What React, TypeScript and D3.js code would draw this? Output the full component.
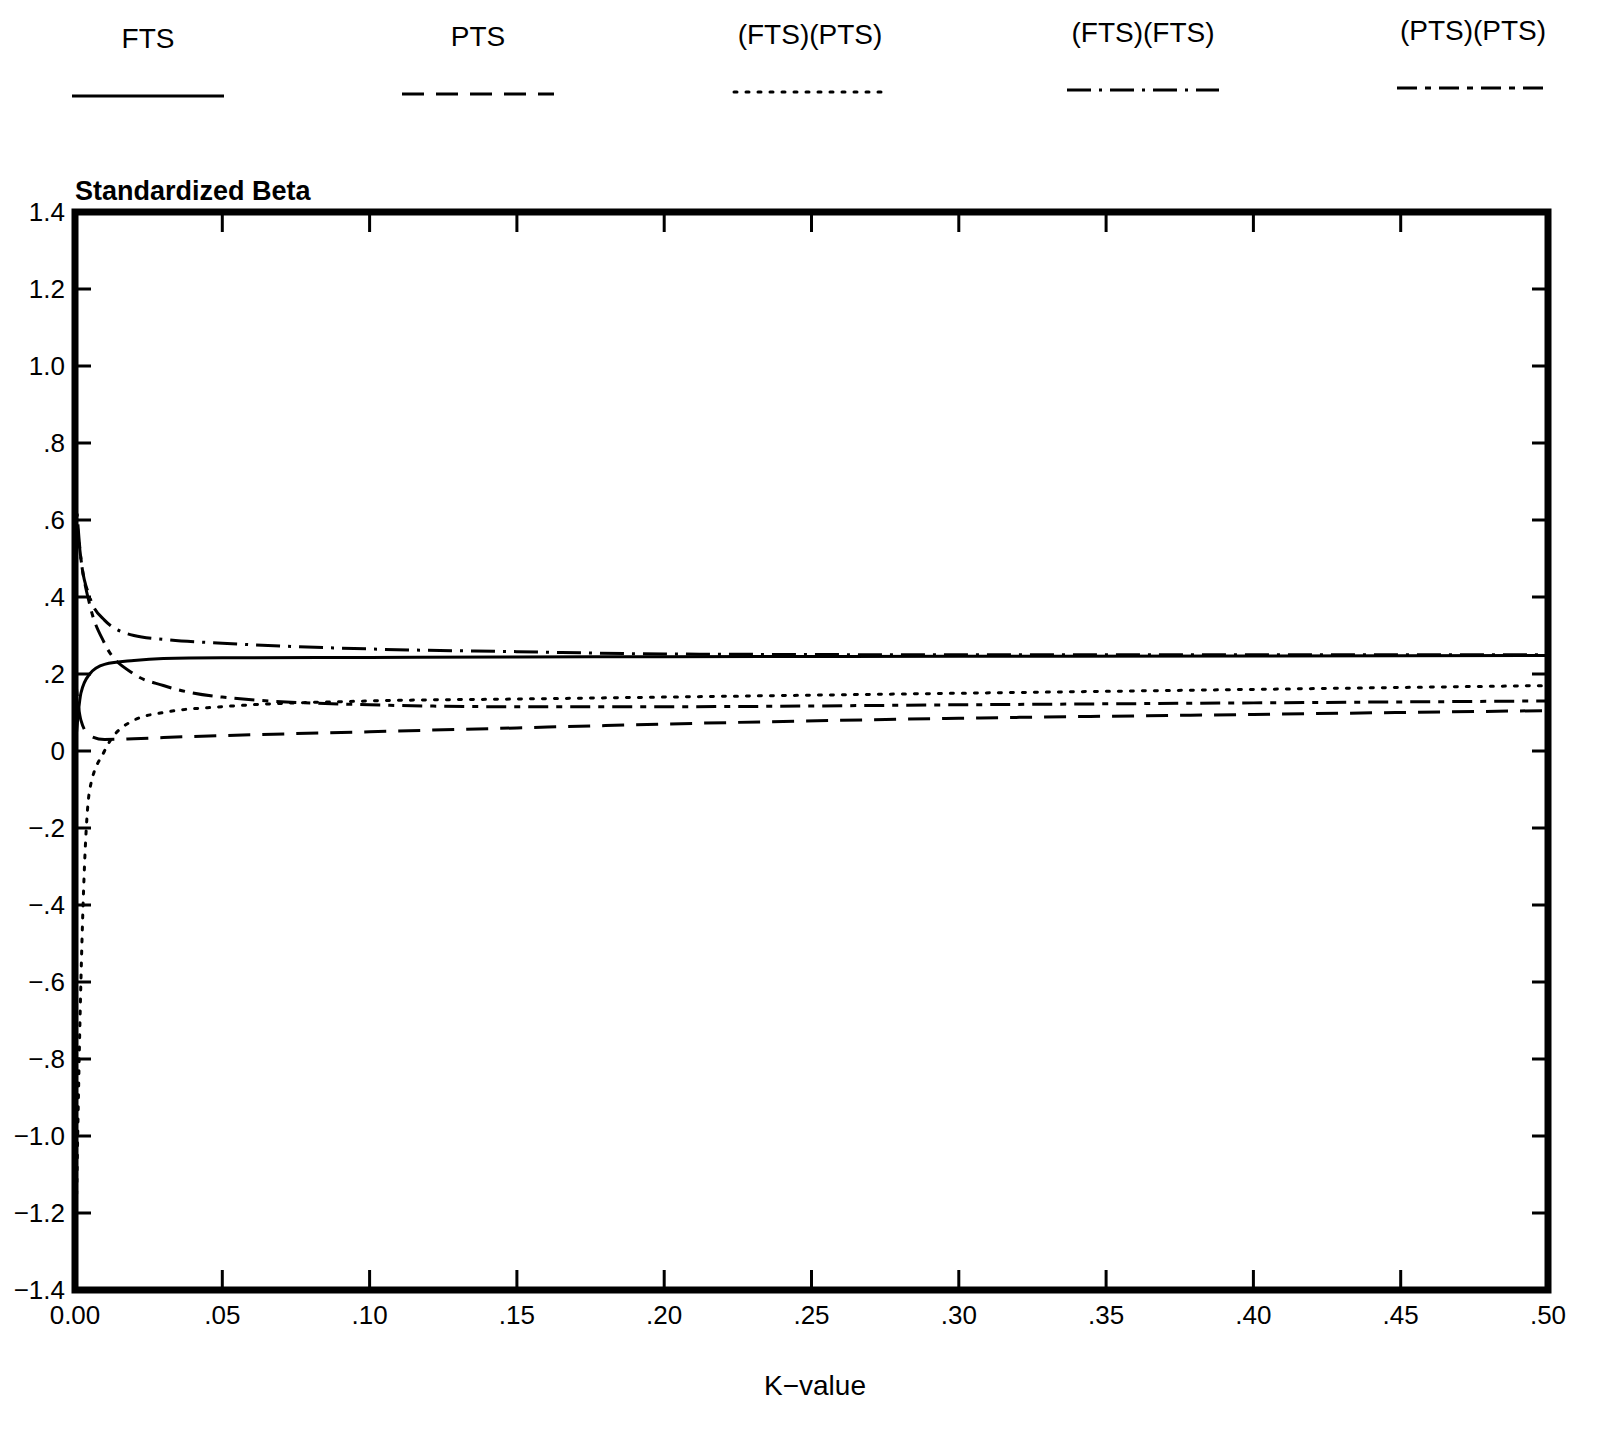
import * as d3 from "d3"

const kValues = [0, 0.002, 0.005, 0.01, 0.02, 0.03, 0.05, 0.1, 0.15, 0.2, 0.3, 0.4, 0.5]
const fts = [0.0, 0.15, 0.2, 0.225, 0.235, 0.24, 0.242, 0.243, 0.244, 0.245, 0.246, 0.247, 0.248]
const pts = [0.2, 0.08, 0.04, 0.03, 0.032, 0.035, 0.04, 0.05, 0.06, 0.07, 0.085, 0.095, 0.105]
const ftsPts = [-1.4, -0.6, -0.1, 0.0, 0.08, 0.1, 0.115, 0.13, 0.135, 0.14, 0.15, 0.16, 0.17]
const ftsFts = [0.7, 0.5, 0.4, 0.34, 0.3, 0.29, 0.28, 0.265, 0.258, 0.252, 0.25, 0.25, 0.25]
const ptsPts = [0.65, 0.5, 0.38, 0.28, 0.2, 0.17, 0.14, 0.12, 0.115, 0.115, 0.12, 0.125, 0.13]

const seriesNames = ["FTS", "PTS", "(FTS)(PTS)", "(FTS)(FTS)", "(PTS)(PTS)"]
const seriesValues = [fts, pts, ftsPts, ftsFts, ptsPts]
const dashes = ["none", "22 12", "3 9", "24 8 3 8", "20 8 6 8"]
const caps = ["butt", "butt", "round", "butt", "butt"]

const xTicks = [0, 0.05, 0.1, 0.15, 0.2, 0.25, 0.3, 0.35, 0.4, 0.45, 0.5]
const yTicks = [1.4, 1.2, 1.0, 0.8, 0.6, 0.4, 0.2, 0, -0.2, -0.4, -0.6, -0.8, -1.0, -1.2, -1.4]

const fmtX = (v: number) => (v === 0 ? "0.00" : "." + d3.format("02d")(Math.round(v * 100)))
const fmtY = (v: number) => {
  if (v === 0) return "0"
  const a = Math.abs(v)
  const s = a >= 1 ? a.toFixed(1) : "." + Math.round(a * 10)
  return v < 0 ? "\u2212" + s : s
}

export default function App() {
  const width = 1599
  const height = 1437
  const left = 75
  const right = 1548
  const top = 212
  const bottom = 1290
  const x = d3.scaleLinear([0, 0.5], [left, right])
  const y = d3.scaleLinear([-1.4, 1.4], [bottom, top])
  const line = d3.line<[number, number]>().x(d => x(d[0])).y(d => y(d[1])).curve(d3.curveMonotoneX)
  const font = "Liberation Sans, Arial, sans-serif"
  const legendX = [148, 478, 810, 1143, 1473]

  return (
    <svg width={width} height={height} style={{ display: "block", margin: -8, background: "#fff" }} fontFamily={font}>
      {seriesNames.map((n, i) => (
        <g key={n}>
          <text x={legendX[i]} y={48 - i * 2} textAnchor="middle" fontSize={28}>{n}</text>
          <line x1={legendX[i] - 76} x2={legendX[i] + 76} y1={96 - i * 2} y2={96 - i * 2}
            stroke="#000" strokeWidth={3} strokeDasharray={dashes[i]} strokeLinecap={caps[i] as any} />
        </g>
      ))}
      <text x={left} y={200} fontSize={27} fontWeight="bold">Standardized Beta</text>
      <defs>
        <clipPath id="c"><rect x={left} y={top} width={right - left} height={bottom - top} /></clipPath>
      </defs>
      <g clipPath="url(#c)">
        {seriesValues.map((vals, i) => (
          <path key={i} d={line(kValues.map((k, j) => [k, vals[j]] as [number, number])) || ""}
            fill="none" stroke="#000" strokeWidth={3} strokeDasharray={dashes[i]} strokeLinecap={caps[i] as any} />
        ))}
      </g>
      <rect x={left} y={top} width={right - left} height={bottom - top} fill="none" stroke="#000" strokeWidth={7} />
      {xTicks.map(t => (
        <g key={t}>
          <line x1={x(t)} x2={x(t)} y1={bottom} y2={bottom - 20} stroke="#000" strokeWidth={3} />
          <line x1={x(t)} x2={x(t)} y1={top} y2={top + 20} stroke="#000" strokeWidth={3} />
          <text x={x(t)} y={bottom + 34} textAnchor="middle" fontSize={26}>{fmtX(t)}</text>
        </g>
      ))}
      {yTicks.map(t => (
        <g key={t}>
          <line x1={left} x2={left + 16} y1={y(t)} y2={y(t)} stroke="#000" strokeWidth={3} />
          <line x1={right} x2={right - 16} y1={y(t)} y2={y(t)} stroke="#000" strokeWidth={3} />
          <text x={left - 10} y={y(t) + 9} textAnchor="end" fontSize={26}>{fmtY(t)}</text>
        </g>
      ))}
      <text x={815} y={1395} textAnchor="middle" fontSize={28}>K{"\u2212"}value</text>
    </svg>
  )
}
